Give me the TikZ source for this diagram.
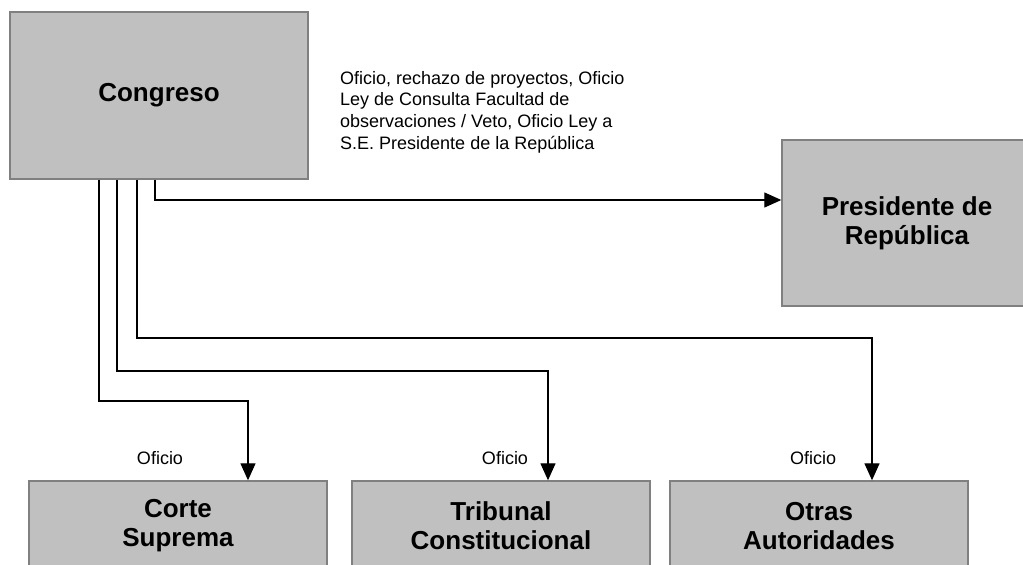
\documentclass[tikz,border=0pt]{standalone}
\usepackage{fontspec}
\setmainfont{Liberation Sans}
\usetikzlibrary{arrows.meta}
\definecolor{boxfill}{HTML}{C0C0C0}
\definecolor{boxline}{HTML}{808080}
\begin{document}
\begin{tikzpicture}[x=1pt,y=-1pt,
  box/.style={draw=boxline, line width=1.4pt, fill=boxfill, inner sep=0pt,
    align=center, font=\fontsize{26}{29}\selectfont\bfseries},
  wire/.style={draw=black, line width=1.3pt},
  flow/.style={wire, -{Triangle[length=17pt,width=15pt]}},
  note/.style={inner sep=0pt, font=\fontsize{18}{21.7}\selectfont}]
\useasboundingbox (0,0) rectangle (1023,565);
\clip (0,0) rectangle (1023,565);

% boxes
\node[box, minimum width=298, minimum height=167] (cong) at (159,95.5) {Congreso};
\node[box, minimum width=250, minimum height=166] (pres) at (907,223) {Presidente de\\República};
\node[box, minimum width=298, minimum height=90] (corte) at (178,526) {Corte\\Suprema};
\node[box, minimum width=298, minimum height=90] (trib) at (501,526) {Tribunal\\Constitucional};
\node[box, minimum width=298, minimum height=90] (otras) at (819,526) {Otras\\Autoridades};

% connectors
\draw[flow] (cong.south -| 155,0) |- (pres.west |- 0,200);
\draw[flow] (cong.south -| 137,0) |- (872,338) -- (otras.north -| 872,0);
\draw[flow] (cong.south -| 117,0) |- (548,371) -- (trib.north -| 548,0);
\draw[flow] (cong.south -| 99,0) |- (248,401) -- (corte.north -| 248,0);

% labels
\node[note, anchor=north west, align=left] (lbl) at (340,71)
  {Oficio, rechazo de proyectos, Oficio\\Ley de Consulta Facultad de\\observaciones / Veto, Oficio Ley a\\S.E. Presidente de la República};
\node[note] (o1) at (160,458) {Oficio};
\node[note] (o2) at (505,458) {Oficio};
\node[note] (o3) at (813,458) {Oficio};
\end{tikzpicture}
\end{document}
